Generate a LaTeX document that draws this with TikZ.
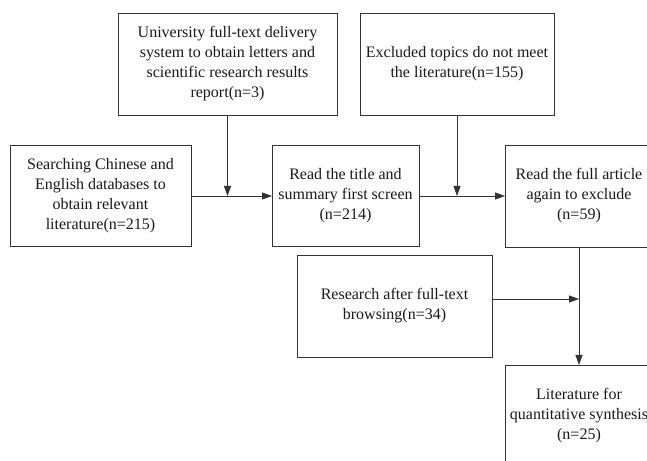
\documentclass[tikz,border=0pt]{standalone}
\usepackage{fontspec}
\setmainfont{Liberation Serif}
\usetikzlibrary{arrows.meta}

\begin{document}
\begin{tikzpicture}[x=1pt,y=1pt,
  box/.style={draw=drawColor,line width=0.8pt,inner sep=0pt,outer sep=0pt,align=center,
    text=textColor,font=\fontsize{16}{20}\selectfont},
  flow/.style={draw=drawColor,line width=0.8pt,-{Triangle[length=10pt,width=7pt]}}]
\definecolor{drawColor}{gray}{0.20}
\definecolor{textColor}{gray}{0.10}
\path[use as bounding box,fill=white] (0,0) rectangle (647,460);
\path[clip] (0,0) rectangle (647,460);

\node[box,minimum width=219pt,minimum height=102pt] (univ) at (227.5,396.0) {University full-text delivery\\system to obtain letters and\\scientific research results\\report(n=3)};

\node[box,minimum width=194pt,minimum height=102pt] (excl) at (457.0,396.0) {Excluded topics do not meet\\the literature(n=155)};

\node[box,minimum width=181pt,minimum height=101pt] (search) at (100.5,264.0) {Searching Chinese and\\English databases to\\obtain relevant\\literature(n=215)};

\node[box,minimum width=147pt,minimum height=101pt] (title) at (345.5,264.0) {Read the title and\\summary first screen\\(n=214)};

\node[box,minimum width=148pt,minimum height=102pt] (full) at (579.0,264.0) {Read the full article\\again to exclude\\(n=59)};

\node[box,minimum width=195pt,minimum height=102pt] (research) at (394.5,154.0) {Research after full-text\\browsing(n=34)};

\node[box,minimum width=148pt,minimum height=102pt] (lit) at (579.0, 44.0) {Literature for\\quantitative synthesis\\(n=25)};

\coordinate (joinA) at (univ.south |- search.east);
\coordinate (joinB) at (excl.south |- title.east);
\coordinate (joinC) at ([yshift=7pt]research.east -| full.south);

\draw[flow] (search.east) -- (title.west);
\draw[flow] (univ.south) -- (joinA);
\draw[flow] (title.east) -- (full.west);
\draw[flow] (excl.south) -- (joinB);
\draw[flow] (full.south) -- (lit.north);
\draw[flow] ([yshift=7pt]research.east) -- (joinC);
\end{tikzpicture}
\end{document}
